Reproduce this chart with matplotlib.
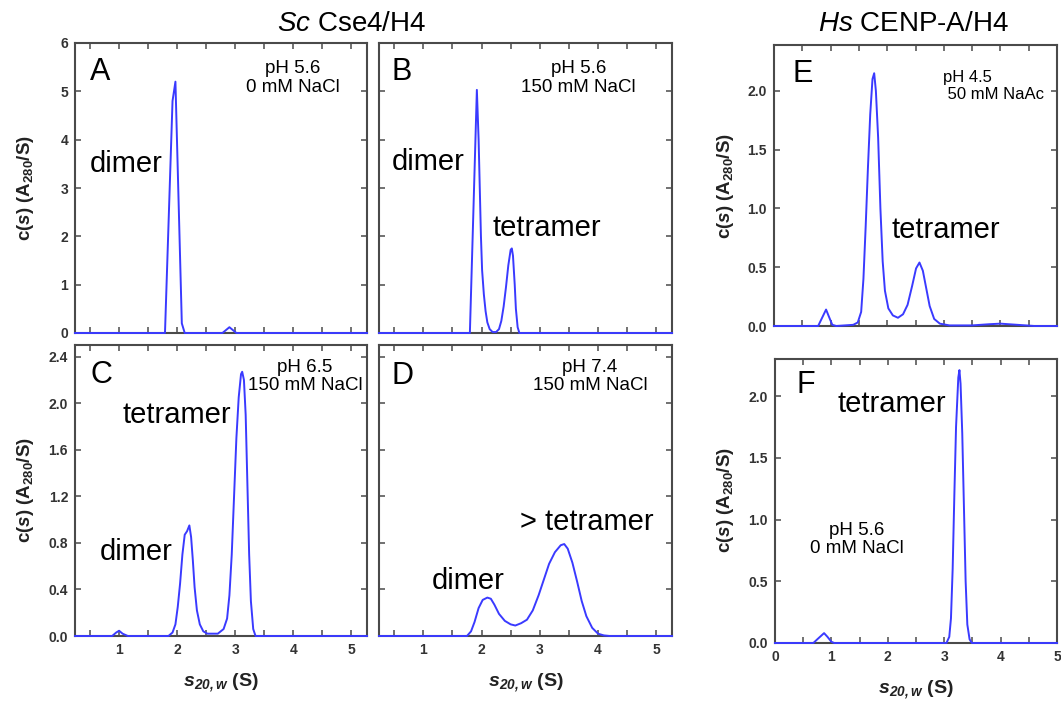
import numpy as np
import matplotlib
matplotlib.use('Agg')
import matplotlib.pyplot as plt
from matplotlib.ticker import MultipleLocator

plt.rcParams['font.family'] = ['Liberation Sans', 'DejaVu Sans']
plt.rcParams['mathtext.fontset'] = 'custom'
plt.rcParams['mathtext.rm'] = 'Liberation Sans'
plt.rcParams['mathtext.it'] = 'Liberation Sans:italic'
plt.rcParams['mathtext.bf'] = 'Liberation Sans:bold'
plt.rcParams['mathtext.bfit'] = 'Liberation Sans:italic:bold'

# c(s) distributions
a_s = [0.24, 1.79, 1.92, 1.97, 2.08, 2.13, 2.78, 2.90, 3.02, 5.27]
a_c = [0, 0, 4.8, 5.2, 0.2, 0, 0, 0.12, 0, 0]

b_s = [0.24, 1.80, 1.86, 1.92, 1.95, 1.97, 1.99, 2.01, 2.04, 2.07, 2.10, 2.14,
       2.19, 2.25, 2.30, 2.34, 2.38, 2.42, 2.46, 2.50, 2.52, 2.54, 2.57, 2.59,
       2.62, 2.65, 5.27]
b_c = [0, 0, 2.5, 5.03, 4.0, 3.0, 2.0, 1.3, 0.8, 0.45, 0.22, 0.08,
       0.02, 0.02, 0.08, 0.25, 0.55, 0.95, 1.4, 1.72, 1.75, 1.6, 1.0, 0.5,
       0.12, 0, 0]

c_s = [0.24, 0.88, 0.95, 1.00, 1.06, 1.15, 1.85, 1.92, 1.97, 2.01, 2.05, 2.09,
       2.13, 2.17, 2.21, 2.24, 2.27, 2.30, 2.34, 2.39, 2.45, 2.52, 2.70, 2.80,
       2.86, 2.90, 2.94, 2.98, 3.02, 3.06, 3.10, 3.12, 3.15, 3.18, 3.21, 3.24,
       3.27, 3.31, 3.35, 5.27]
c_c = [0, 0, 0.03, 0.045, 0.02, 0, 0, 0.03, 0.10, 0.25, 0.45, 0.70,
       0.87, 0.90, 0.95, 0.85, 0.65, 0.42, 0.22, 0.10, 0.04, 0.02, 0.02, 0.06,
       0.15, 0.35, 0.70, 1.20, 1.70, 2.05, 2.25, 2.27, 2.20, 1.90, 1.30, 0.70,
       0.30, 0.06, 0, 0]

d_s = [0.24, 1.75, 1.82, 1.88, 1.95, 2.02, 2.10, 2.16, 2.22, 2.30, 2.40, 2.50,
       2.58, 2.68, 2.78, 2.88, 2.98, 3.08, 3.16, 3.26, 3.36, 3.42, 3.48, 3.56,
       3.64, 3.72, 3.80, 3.90, 4.00, 4.10, 4.20, 5.27]
d_c = [0, 0, 0.04, 0.12, 0.24, 0.31, 0.33, 0.32, 0.27, 0.19, 0.13, 0.10,
       0.09, 0.11, 0.14, 0.22, 0.35, 0.50, 0.62, 0.72, 0.78, 0.79, 0.75, 0.63,
       0.47, 0.30, 0.17, 0.07, 0.02, 0.005, 0, 0]

e_s = [0, 0.78, 0.84, 0.92, 0.97, 1.03, 1.10, 1.40, 1.48, 1.54, 1.58, 1.62,
       1.66, 1.70, 1.74, 1.77, 1.80, 1.84, 1.88, 1.92, 1.96, 2.02, 2.10, 2.19,
       2.28, 2.36, 2.44, 2.51, 2.57, 2.63, 2.69, 2.75, 2.83, 2.93, 3.10, 3.50,
       3.80, 4.00, 4.30, 4.60, 5.00]
e_c = [0, 0, 0.06, 0.14, 0.08, 0.01, 0, 0.01, 0.03, 0.12, 0.40, 0.85,
       1.35, 1.80, 2.10, 2.15, 2.00, 1.60, 1.00, 0.55, 0.30, 0.15, 0.09, 0.07,
       0.10, 0.18, 0.34, 0.49, 0.54, 0.47, 0.32, 0.17, 0.06, 0.02, 0.005, 0.005,
       0.015, 0.02, 0.01, 0, 0]

f_s = [0, 0.68, 0.75, 0.87, 0.93, 1.00, 1.05, 3.04, 3.09, 3.12, 3.15, 3.18,
       3.21, 3.25, 3.27, 3.29, 3.32, 3.35, 3.38, 3.41, 3.45, 3.49, 5.00]
f_c = [0, 0, 0.03, 0.08, 0.05, 0.01, 0, 0, 0.05, 0.20, 0.60, 1.20,
       1.75, 2.15, 2.21, 2.10, 1.70, 1.10, 0.50, 0.15, 0.03, 0, 0]

W, H = 1061, 702
fig = plt.figure(figsize=(W / 100, H / 100), dpi=100)

def px_axes(l, t, r, b):
    return fig.add_axes([l / W, 1 - b / H, (r - l) / W, (b - t) / H])

line_col = '#3a3aff'
spine_col = '#4a4a4a'
tick_col = '#333333'

def style(ax, xlim, ylim, xmaj, xmin, ymaj, xlab=True, ylab=True):
    ax.set_xlim(*xlim)
    ax.set_ylim(*ylim)
    ax.xaxis.set_major_locator(MultipleLocator(xmaj))
    ax.xaxis.set_minor_locator(MultipleLocator(xmin))
    ax.yaxis.set_major_locator(MultipleLocator(ymaj))
    for s in ax.spines.values():
        s.set_color(spine_col)
        s.set_linewidth(1.5)
    ax.tick_params(which='both', direction='in', top=True, right=True,
                   length=4, width=1.1, color=spine_col,
                   labelsize=10, labelcolor=tick_col, pad=5)
    if not xlab:
        ax.tick_params(labelbottom=False)
    if not ylab:
        ax.tick_params(labelleft=False)

def curve(ax, s, c):
    ax.plot(s, c, color=line_col, lw=1.4, zorder=3, clip_on=False)

xl4 = (0.24, 5.27)
fmt1 = plt.FuncFormatter(lambda v, p: '%.1f' % v)

axA = px_axes(75, 43, 367, 333)
curve(axA, a_s, a_c)
style(axA, xl4, (0, 6), 1, 0.5, 1, xlab=False)

axB = px_axes(379, 43, 672, 333)
curve(axB, b_s, b_c)
style(axB, xl4, (0, 6), 1, 0.5, 1, xlab=False, ylab=False)

axC = px_axes(75, 345, 367, 636)
curve(axC, c_s, c_c)
style(axC, xl4, (0, 2.5), 1, 0.5, 0.4)
axC.yaxis.set_major_formatter(fmt1)

axD = px_axes(379, 345, 672, 636)
curve(axD, d_s, d_c)
style(axD, xl4, (0, 2.5), 1, 0.5, 0.4, ylab=False)

axE = px_axes(774, 45, 1057, 326)
curve(axE, e_s, e_c)
style(axE, (0, 5), (0, 2.39), 1, 0.5, 0.5, xlab=False)
axE.yaxis.set_major_formatter(fmt1)

axF = px_axes(775, 359, 1057, 643)
curve(axF, f_s, f_c)
style(axF, (0, 5), (0, 2.3), 1, 0.5, 0.5)
axF.yaxis.set_major_formatter(fmt1)

for ax in [axA, axB, axC, axD, axE, axF]:
    for lab in ax.get_xticklabels() + ax.get_yticklabels():
        lab.set_fontweight('bold')

big = 21
cond = 13.5

# panel A
axA.text(0.50, 5.39, 'A', fontsize=22, ha='left', va='center')
axA.text(0.50, 3.34, 'dimer', fontsize=big, ha='left', va='baseline')
axA.text(3.99, 5.64, 'pH 5.6\n0 mM NaCl', fontsize=cond, ha='center', va='top',
         linespacing=1.1)
# panel B
axB.text(0.46, 5.39, 'B', fontsize=22, ha='left', va='center')
axB.text(0.46, 3.38, 'dimer', fontsize=big, ha='left', va='baseline')
axB.text(2.19, 2.01, 'tetramer', fontsize=big, ha='left', va='baseline')
axB.text(3.67, 5.64, 'pH 5.6\n150 mM NaCl', fontsize=cond, ha='center', va='top',
         linespacing=1.1)
# panel C
axC.text(0.50, 2.24, 'C', fontsize=22, ha='left', va='center')
axC.text(1.05, 1.83, 'tetramer', fontsize=big, ha='left', va='baseline')
axC.text(0.67, 0.65, 'dimer', fontsize=big, ha='left', va='baseline')
axC.text(4.20, 2.38, 'pH 6.5\n150 mM NaCl', fontsize=cond, ha='center', va='top',
         linespacing=1.1, clip_on=False)
# panel D
axD.text(0.46, 2.23, 'D', fontsize=22, ha='left', va='center')
axD.text(3.86, 2.38, 'pH 7.4\n150 mM NaCl', fontsize=cond, ha='center', va='top',
         linespacing=1.1)
axD.text(1.14, 0.40, 'dimer', fontsize=big, ha='left', va='baseline')
axD.text(2.66, 0.91, '> tetramer', fontsize=big, ha='left', va='baseline')
# panel E
axE.text(0.32, 2.14, 'E', fontsize=22, ha='left', va='center')
axE.text(2.98, 2.18, 'pH 4.5\n 50 mM NaAc', fontsize=12, ha='left', va='top',
         linespacing=1.2)
axE.text(2.07, 0.75, 'tetramer', fontsize=big, ha='left', va='baseline')
# panel F
axF.text(0.39, 2.09, 'F', fontsize=22, ha='left', va='center')
axF.text(1.10, 1.87, 'tetramer', fontsize=big, ha='left', va='baseline')
axF.text(1.45, 0.98, 'pH 5.6\n0 mM NaCl', fontsize=cond, ha='center', va='top',
         linespacing=1.1)

# titles and axis labels
fig.text(352 / W, 1 - 24 / H, r'$\mathit{Sc}$ Cse4/H4', fontsize=20,
         ha='center', va='center')
fig.text(913 / W, 1 - 24 / H, r'$\mathit{Hs}$ CENP-A/H4', fontsize=20,
         ha='center', va='center')

ylab = r'c($\mathbfit{s}$) (A$_{\mathbf{280}}$/S)'
xlab = r'$\mathbfit{s}_{\mathbfit{20,w}}$ (S)'
for xp, yp in [(26, 188), (26, 490), (726, 186), (726, 500)]:
    fig.text(xp / W, 1 - yp / H, ylab, fontsize=13.5, fontweight='bold',
             rotation=90, ha='center', va='center', color='#222222')
for xp, yp in [(221, 683), (526, 683), (916, 690)]:
    fig.text(xp / W, 1 - yp / H, xlab, fontsize=14, fontweight='bold',
             ha='center', va='center', color='#222222')

fig.savefig('out.png', dpi=100)
